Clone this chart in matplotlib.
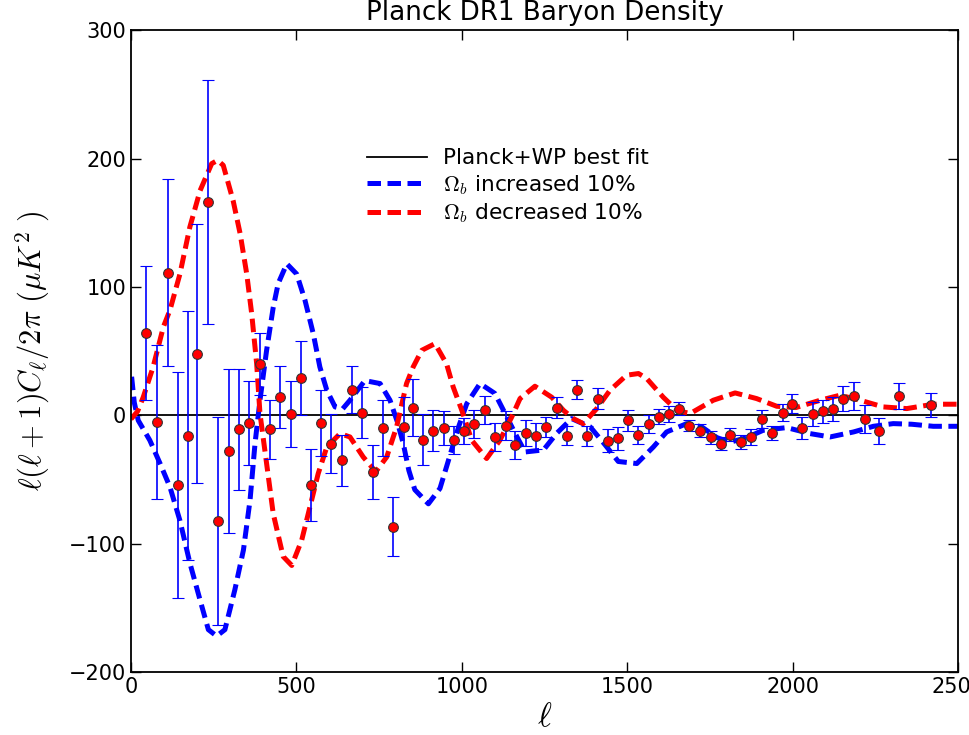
import matplotlib
matplotlib.use('Agg')
import matplotlib.pyplot as plt
import numpy as np

# binned Planck residuals (data - best fit)
ell = [47, 80, 111, 143, 173, 200, 234, 264, 296, 327, 358, 389, 420, 451,
       483, 514, 543, 574, 605, 637, 669, 699, 731, 762, 793, 824, 853, 882,
       914, 946, 977, 1007, 1038, 1070, 1101, 1133, 1161, 1193, 1224, 1255,
       1287, 1319, 1347, 1379, 1411, 1442, 1473, 1502, 1534, 1565, 1596,
       1627, 1657, 1688, 1720, 1752, 1783, 1811, 1843, 1873, 1907, 1939,
       1970, 1999, 2029, 2061, 2093, 2123, 2151, 2184, 2220, 2262, 2322, 2417]
resid = [64, -5, 111, -54, -16, 48, 166, -82, -28, -11, -6, 40, -11, 14,
         1, 29, -54, -6, -22, -35, 20, 2, -44, -10, -87, -9, 6, -19,
         -12, -10, -19, -12, -7, 4, -17, -8, -23, -14, -16, -9,
         6, -16, 20, -16, 13, -20, -18, -4, -15, -7, -1,
         1, 5, -8, -12, -17, -22, -15, -21, -17, -3, -13.5,
         2, 9, -10, 1, 3, 5, 13, 15, -3, -12.5, 15, 8]
err = [52, 60, 73, 88, 97, 101, 95, 81, 64, 47, 33, 24, 23, 24,
       26, 29, 28, 26, 23, 20, 18, 20, 21, 22, 23, 23, 22, 20,
       16, 13, 11, 10, 11, 11, 11, 11, 11, 10, 10, 8,
       8, 7.5, 7.5, 8, 8, 9, 9, 8, 7, 7, 6,
       6, 5, 4.5, 5, 5, 5, 5, 5.5, 6, 7, 5.5,
       6.5, 7.5, 8.5, 9, 9, 9.5, 10, 11, 11, 10, 10, 9]

# model residuals, Omega_b increased 10%
ell_inc = [2, 10, 22, 57, 88, 118, 148, 178, 209, 234, 259, 284, 314, 340,
           360, 375, 390, 410, 430, 445, 471, 501, 526, 551, 571, 592, 617,
           640, 662, 707, 753, 783, 805, 823, 840, 858, 899, 934, 954, 975,
           992, 1015, 1055, 1100, 1131, 1161, 1191, 1247, 1287, 1332, 1388,
           1433, 1473, 1529, 1579, 1619, 1680, 1725, 1771, 1811, 1861, 1911,
           1982, 2053, 2113, 2184, 2244, 2304, 2360, 2425, 2500]
res_inc = [30, 10, -4, -19.5, -37.6, -56, -82, -115, -144, -167, -172, -167,
           -136, -105, -66, -22, 11.7, 50.6, 84, 102.6, 118, 110, 89.6, 63.6,
           37.6, 19.5, 6.5, 5, 11.7, 27, 24.7, 11.7, -5, -22, -43, -58, -69,
           -57, -40, -22, -7.8, 9, 24.7, 17, 1.3, -14, -28.6, -27, -14, -2.6,
           -9, -23, -36, -37.6, -24.7, -13, -6.5, -9, -17.4, -21, -17.4,
           -11.7, -9.6, -14.3, -16.9, -13, -8.6, -6.5, -7, -8.6, -8.6]

# model residuals, Omega_b decreased 10%
ell_dec = [0, 20, 37, 67, 98, 118, 148, 178, 209, 244, 262, 279, 309, 330,
           350, 365, 380, 390, 410, 430, 460, 486, 516, 541, 566, 592, 632,
           662, 702, 740, 773, 803, 833, 853, 879, 919, 954, 974, 1000, 1030,
           1075, 1115, 1151, 1176, 1221, 1272, 1307, 1337, 1367, 1408, 1448,
           1498, 1534, 1559, 1609, 1650, 1690, 1760, 1826, 1891, 1952, 2010,
           2083, 2143, 2204, 2274, 2345, 2425, 2500]
res_dec = [-3, 3, 14, 37.6, 68.8, 82, 110, 146.6, 175, 196, 198.6, 194.7,
           167, 141.5, 110, 79, 40, 1.3, -37.6, -76.6, -110, -117, -97.4,
           -71.4, -45.4, -24.7, -14.3, -16.9, -32.5, -44, -32.5, -9, 24.7,
           37.6, 50.6, 55.8, 40, 22, 3.9, -19.5, -33.7, -19.5, -1.3, 13, 22.6,
           14, 3.9, -2.6, -6.5, 5.2, 19.5, 31.2, 32.5, 28.6, 14, 3.9, 1.3,
           11.7, 17.4, 13, 7, 6, 11.7, 15.6, 11.7, 6.5, 5.2, 8.6, 8.6]


def main():
    plt.rcParams['mathtext.fontset'] = 'cm'
    plt.rcParams['xtick.direction'] = 'in'
    plt.rcParams['ytick.direction'] = 'in'
    plt.rcParams['xtick.top'] = True
    plt.rcParams['ytick.right'] = True

    fig = plt.figure(figsize=(9.7, 7.35), dpi=100)
    ax = fig.add_axes([0.135, 0.0857, 0.8527, 0.8733])

    dash = (0, (2.7, 1.3))
    ax.plot([0, 2500], [0, 0], color='black', lw=1.3, label='Planck+WP best fit')
    ax.plot(ell_inc, res_inc, color='blue', lw=3.6, ls=dash,
            label=r'$\Omega_b$ increased 10%')
    ax.plot(ell_dec, res_dec, color='red', lw=3.6, ls=dash,
            label=r'$\Omega_b$ decreased 10%')

    ax.errorbar(ell, resid, yerr=err, fmt='o', color='blue',
                ecolor='blue', elinewidth=1.2, capsize=4.5, capthick=1.2,
                markerfacecolor='red', markeredgecolor='#333333',
                markeredgewidth=0.8, markersize=7)

    ax.set_xlim(0, 2500)
    ax.set_ylim(-200, 300)
    ax.set_xticks([0, 500, 1000, 1500, 2000, 2500])
    ax.set_yticks([-200, -100, 0, 100, 200, 300])
    ax.tick_params(labelsize=15, length=7, width=1)
    for sp in ax.spines.values():
        sp.set_linewidth(1.3)

    ax.set_title('Planck DR1 Baryon Density', fontsize=18.8, pad=7)
    ax.set_xlabel(r'$\ell$', fontsize=24, labelpad=2)
    ax.set_ylabel(r'$\ell(\ell+1)C_\ell/2\pi\ (\mu K^2\ )$', fontsize=22,
                  labelpad=12)

    ax.legend(loc='upper left', bbox_to_anchor=(0.285, 0.816), frameon=False,
              fontsize=15.6, handlelength=2.8, handletextpad=0.7,
              labelspacing=0.22, borderpad=0, borderaxespad=0)

    fig.savefig('out.png', dpi=100)
    plt.close(fig)


if __name__ == '__main__':
    main()
